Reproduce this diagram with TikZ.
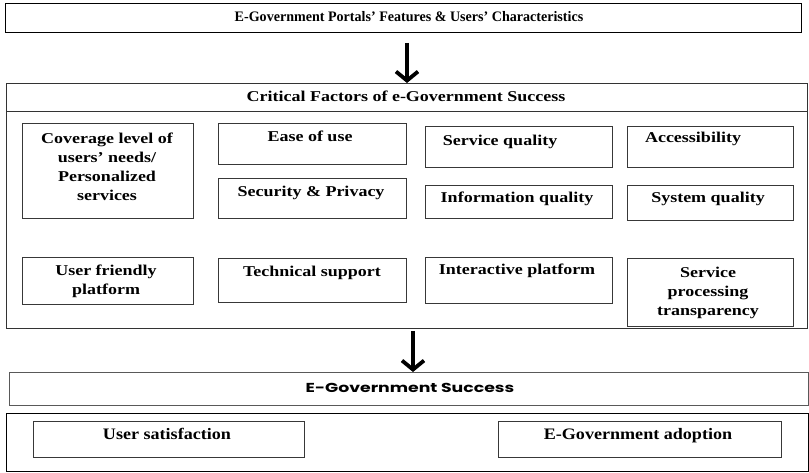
\documentclass[tikz,border=0pt]{standalone}
\usepackage{fontspec}
\usetikzlibrary{arrows.meta}
\newfontfamily\titlefont[FakeStretch=0.97]{Liberation Serif}
\newfontfamily\boxfont[FakeStretch=1.2]{Liberation Serif}
\newfontfamily\botfont[FakeStretch=1.13]{Liberation Serif}
\newfontfamily\succfont[FakeStretch=1.33]{Poppins}
\tikzset{
  frame/.style={draw=black!80, line width=0.9pt, anchor=north west, inner sep=0pt},
  fbox/.style={draw=black!78, line width=0.9pt, anchor=north west, inner sep=0pt},
  ftext/.style={font=\boxfont\bfseries\fontsize{15}{19}\selectfont, align=center, inner sep=0pt, text height=10.5pt, text depth=3pt},
  mtext/.style={font=\boxfont\bfseries\fontsize{15}{19}\selectfont, align=center, inner sep=0pt},
  bigarrow/.style={line width=3.8pt, -{Straight Barb[length=9pt,width=22pt]}},
}
\begin{document}
\begin{tikzpicture}[x=1pt,y=-1pt]
\useasboundingbox (0,0) rectangle (809,472);
% top
\node[frame, draw=black, minimum width=796pt, minimum height=29pt] (title) at (5,3) {};
\node[font=\titlefont\bfseries\fontsize{14.5}{17}\selectfont, inner sep=0pt, text height=10pt, text depth=3pt] (titletxt) at (409,18) {E-Government Portals’ Features \& Users’ Characteristics};
% header + container
\node[frame, minimum width=801pt, minimum height=28pt] (header) at (6,83) {};
\node[ftext] (headertxt) at (406,98) {Critical Factors of e-Government Success};
\node[frame, minimum width=801pt, minimum height=217pt] (container) at (6,111) {};
% inner boxes
\node[fbox, minimum width=171pt, minimum height=95pt] (cov) at (22,123) {};
\node[mtext] at (107,167) {Coverage level of\\users’ needs/\\Personalized\\services};
\node[fbox, minimum width=188pt, minimum height=41pt] (ease) at (218,123) {};
\node[ftext] at (310,138) {Ease of use};
\node[fbox, minimum width=188pt, minimum height=40pt] (sec) at (218,178) {};
\node[ftext] at (311,193) {Security \& Privacy};
\node[fbox, minimum width=171pt, minimum height=47pt] (uf) at (22,257) {};
\node[mtext] at (106,281) {User friendly\\platform};
\node[fbox, minimum width=188pt, minimum height=44pt] (tech) at (218,258) {};
\node[ftext] at (312,273) {Technical support};
\node[fbox, minimum width=187pt, minimum height=41pt] (sq) at (425,126) {};
\node[ftext] at (500,142) {Service quality};
\node[fbox, minimum width=166pt, minimum height=41pt] (acc) at (627,126) {};
\node[ftext] at (693,139) {Accessibility};
\node[fbox, minimum width=187pt, minimum height=33pt] (iq) at (425,185) {};
\node[ftext] at (517,199) {Information quality};
\node[fbox, minimum width=166pt, minimum height=35pt] (sys) at (627,185) {};
\node[ftext] at (708,199) {System quality};
\node[fbox, minimum width=187pt, minimum height=46pt] (ip) at (425,257) {};
\node[ftext] at (517,271) {Interactive platform};
\node[fbox, minimum width=166pt, minimum height=68pt] (spt) at (627,258) {};
\node[mtext] at (708,293) {Service\\processing\\transparency};
% success
\node[frame, draw=black!65, minimum width=799pt, minimum height=33pt] (succ) at (9,372) {};
\node[font=\succfont\bfseries\fontsize{13}{15}\selectfont, inner sep=0pt, text height=9pt, text depth=0pt] (succtxt) at (410,388) {E-Government Success};
\node[frame, draw=black, minimum width=802pt, minimum height=58pt] (bottom) at (6,413) {};
\node[fbox, minimum width=271pt, minimum height=36pt] (usat) at (33,421) {};
\node[font=\botfont\bfseries\fontsize{16}{18}\selectfont, inner sep=0pt, text height=10.5pt, text depth=3pt] at (167,436) {User satisfaction};
\node[fbox, minimum width=283pt, minimum height=36pt] (adopt) at (498,421) {};
\node[font=\botfont\bfseries\fontsize{16}{18}\selectfont, inner sep=0pt, text height=10.5pt, text depth=3pt] at (638,436) {E-Government adoption};
% arrows
\coordinate (a1s) at (407,42);
\coordinate (a1e) at (407,82);
\draw[bigarrow] (title.south -| a1s) ++(0,10) -- (header.north -| a1e);
\draw[bigarrow] (container.south -| 413,0) ++(0,2) -- (succ.north -| 413,0);
\end{tikzpicture}
\end{document}
